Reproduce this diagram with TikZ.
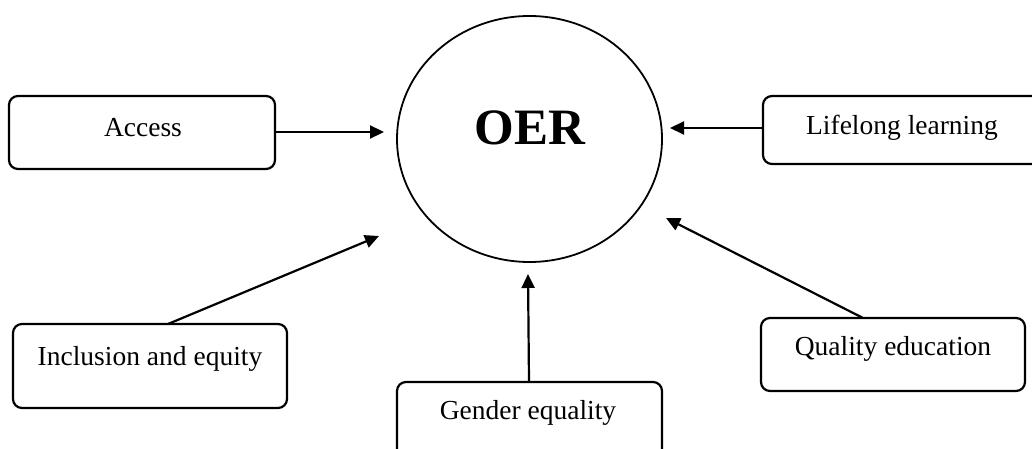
\documentclass[tikz,border=0pt]{standalone}
\usepackage{fontspec}
\setmainfont{Liberation Serif}
\usetikzlibrary{arrows.meta,shapes.geometric}
\tikzset{
  box/.style={draw=black, line width=2.2pt, rounded corners=9pt, fill=none, inner sep=0pt},
  lbl/.style={inner sep=0pt, font=\fontsize{27.5}{32}\selectfont},
  conn/.style={draw=black, line width=2.2pt, -{Triangle[length=14pt,width=13pt]}},
}
\begin{document}
\begin{tikzpicture}[x=1pt,y=-1pt]
\useasboundingbox (0,0) rectangle (1032,449);
% centre
\node[draw=black, line width=1.8pt, ellipse, minimum width=265pt, minimum height=246pt, inner sep=0pt] (oer) at (529.5,139) {};
\node[inner sep=0pt, font=\bfseries\fontsize{51}{56}\selectfont] (oert) at (530,128) {OER};
% boxes
\node[box, minimum width=266pt, minimum height=73pt] (access) at (142,132.5) {};
\node[lbl] (accesst) at (143,128) {Access};
\node[box, minimum width=290pt, minimum height=68pt] (life) at (908,130) {};
\node[lbl] (lifet) at (902,128) {Lifelong learning};
\node[box, minimum width=274pt, minimum height=84pt] (incl) at (150,366) {};
\node[lbl] (inclt) at (150,359) {Inclusion and equity};
\node[box, minimum width=265pt, minimum height=84pt] (gender) at (529.5,424) {};
\node[lbl] (gendert) at (528,413) {Gender equality};
\node[box, minimum width=264pt, minimum height=73pt] (quality) at (893,354.5) {};
\node[lbl] (qualityt) at (893,349) {Quality education};
% arrow tips
\coordinate (ta) at (384,132);
\coordinate (tl) at (670,128);
\coordinate (ti) at (379,236);
\coordinate (tg) at (528,274);
\coordinate (tq) at (666,218);
\coordinate (si) at (168,324);
\coordinate (sg) at (529,382);
\coordinate (sq) at (863,318);
\draw[conn] (access.east |- ta) -- (ta);
\draw[conn] (life.west |- tl) -- (tl);
\draw[conn] (si) -- (ti);
\draw[conn] (sg) -- (tg);
\draw[conn] (sq) -- (tq);
\end{tikzpicture}
\end{document}
